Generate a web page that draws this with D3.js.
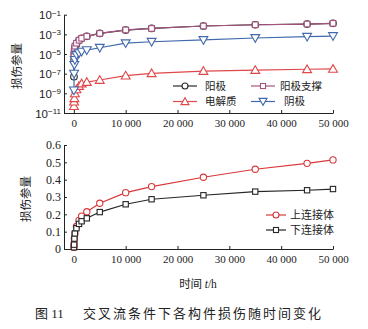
<!DOCTYPE html>
<html><head><meta charset="utf-8">
<script src="https://cdn.jsdelivr.net/npm/d3@7/dist/d3.min.js"></script>
<style>
body{margin:0;background:#fff;}
svg{display:block;font-family:"Liberation Serif","Noto Sans CJK SC",serif;}
</style></head><body>
<script>
// ---- data ----
const timesTop = [20, 50, 100, 200, 500, 1000, 1500, 2500, 5000, 10000, 15000, 25000, 35000, 45000, 50000];
const anodeExp = [-7.3, -5.6, -5.0, -4.5, -4.0, -3.6, -3.4, -3.2, -2.9, -2.56, -2.4, -2.15, -2.02, -1.95, -1.88];
const anodeSupportExp = [-5.0, -4.7, -4.4, -4.2, -3.9, -3.6, -3.4, -3.2, -2.9, -2.55, -2.4, -2.15, -2.02, -1.95, -1.88];
const electrolyteExp = [-10.3, -9.85, -9.5, -9.0, -8.6, -8.25, -8.0, -7.85, -7.64, -7.2, -6.96, -6.73, -6.63, -6.55, -6.52];
const cathodeExp = [-8.7, -7.0, -6.1, -5.6, -5.1, -4.9, -4.75, -4.6, -4.36, -3.9, -3.75, -3.57, -3.37, -3.24, -3.17];
const anode = anodeExp.map(e => Math.pow(10, e));
const anodeSupport = anodeSupportExp.map(e => Math.pow(10, e));
const electrolyte = electrolyteExp.map(e => Math.pow(10, e));
const cathode = cathodeExp.map(e => Math.pow(10, e));

const timesBottom = [20, 50, 100, 200, 500, 1000, 1500, 2500, 5000, 10000, 15000, 25000, 35000, 45000, 50000];
const upperConn = [0.01, 0.03, 0.06, 0.09, 0.13, 0.165, 0.19, 0.215, 0.264, 0.325, 0.36, 0.414, 0.46, 0.494, 0.514];
const lowerConn = [0.01, 0.025, 0.06, 0.09, 0.12, 0.145, 0.16, 0.177, 0.213, 0.258, 0.287, 0.31, 0.331, 0.339, 0.346];

const xTicks = [0, 10000, 20000, 30000, 40000, 50000];
const yTicksTopExp = [-1, -3, -5, -7, -9, -11];
const yTicksBottom = [0, 0.1, 0.2, 0.3, 0.4, 0.5, 0.6];

const topSeries = [
  {name: "阳极", values: anode, color: "#2a2a2a", shape: "circle"},
  {name: "阳极支撑", values: anodeSupport, color: "#a4547f", shape: "square"},
  {name: "电解质", values: electrolyte, color: "#e0474a", shape: "triangle"},
  {name: "阴极", values: cathode, color: "#4169ad", shape: "triangleDown"}
];
const bottomSeries = [
  {name: "上连接体", values: upperConn, color: "#d8383a", shape: "circle"},
  {name: "下连接体", values: lowerConn, color: "#262626", shape: "square"}
];

// ---- drawing ----
const W = 368, H = 329;
const svg = d3.select("body").append("svg").attr("width", W).attr("height", H);

const x = d3.scaleLinear().domain([-1900, 50000]).range([64, 333]);
const yTop = d3.scaleLog().domain([1e-11, 1e-1]).range([113, 14.7]);
const yBot = d3.scaleLinear().domain([0, 0.6]).range([249, 145]);

const fmtX = d => d === 0 ? "0" : d3.format(",")(d).replace(",", " ");

function marker(g, shape, cx, cy, color, s) {
  s = s || 1;
  if (shape === "circle") {
    g.append("circle").attr("cx", cx).attr("cy", cy).attr("r", 3.3 * s)
      .attr("fill", "#fff").attr("stroke", color).attr("stroke-width", 1.1);
  } else if (shape === "square") {
    const a = 5.6 * s;
    g.append("rect").attr("x", cx - a / 2).attr("y", cy - a / 2).attr("width", a).attr("height", a)
      .attr("fill", "#fff").attr("stroke", color).attr("stroke-width", 1.1);
  } else {
    const sym = d3.symbol().type(d3.symbolTriangle).size(34 * s * s);
    g.append("path").attr("d", sym())
      .attr("transform", `translate(${cx},${cy + (shape === "triangle" ? 0.8 : -0.8)}) rotate(${shape === "triangle" ? 0 : 180})`)
      .attr("fill", "#fff").attr("stroke", color).attr("stroke-width", 1.1);
  }
}

function styleAxis(g) {
  g.selectAll("path.domain").attr("stroke", "#222").attr("stroke-width", 1);
  g.selectAll(".tick line").attr("stroke", "#222");
  g.selectAll("text").attr("fill", "#222").attr("font-family", "Liberation Serif, serif").attr("font-size", 11);
}

// ===== Top plot =====
const gTop = svg.append("g");
const xAxTop = gTop.append("g").attr("transform", `translate(0,113)`)
  .call(d3.axisBottom(x).tickValues(xTicks).tickFormat(fmtX).tickSize(-3).tickSizeOuter(0).tickPadding(6));
styleAxis(xAxTop);
const yAxTop = gTop.append("g").attr("transform", `translate(64,0)`)
  .call(d3.axisLeft(yTop).tickValues(yTicksTopExp.map(e => Math.pow(10, e))).tickFormat("").tickSize(-3).tickSizeOuter(0));
styleAxis(yAxTop);
yAxTop.selectAll(".tick").each(function(d, i) {
  const t = d3.select(this).append("text").attr("x", -3).attr("dy", "0.35em")
    .attr("text-anchor", "end").attr("fill", "#222").attr("font-size", 11.5);
  t.append("tspan").text("10");
  t.append("tspan").attr("dy", "-0.45em").attr("font-size", 8).text("\u2212" + (-yTicksTopExp[i]));
});
gTop.append("text").attr("transform", "translate(21,66) rotate(-90)").attr("text-anchor", "middle")
  .attr("font-family", "Noto Sans CJK SC").attr("font-size", 11.5).attr("fill", "#222").text("损伤参量");

topSeries.forEach(s => {
  const pts = timesTop.map((t, i) => [x(t), yTop(s.values[i])]);
  gTop.append("path").attr("d", d3.line()(pts)).attr("fill", "none")
    .attr("stroke", s.color).attr("stroke-width", 1.2);
  const mg = gTop.append("g");
  pts.forEach(p => marker(mg, s.shape, p[0], p[1], s.color));
});

// top legend
const legTop = [
  {s: topSeries[0], lx: 173, ty: 86, tx: 205},
  {s: topSeries[1], lx: 251, ty: 86, tx: 280},
  {s: topSeries[2], lx: 173, ty: 101.5, tx: 205},
  {s: topSeries[3], lx: 251, ty: 101.5, tx: 284}
];
legTop.forEach(l => {
  gTop.append("line").attr("x1", l.lx).attr("x2", l.lx + 24).attr("y1", l.ty).attr("y2", l.ty)
    .attr("stroke", l.s.color).attr("stroke-width", 1.2);
  marker(gTop, l.s.shape, l.lx + 12, l.ty, l.s.color, 0.9);
  gTop.append("text").attr("x", l.tx).attr("y", l.ty).attr("dy", "0.36em")
    .attr("font-family", "Noto Sans CJK SC").attr("font-size", 10.5).attr("fill", "#222").text(l.s.name);
});

// ===== Bottom plot =====
const gBot = svg.append("g");
const xAxBot = gBot.append("g").attr("transform", `translate(0,249)`)
  .call(d3.axisBottom(x).tickValues(xTicks).tickFormat(fmtX).tickSize(-3).tickSizeOuter(0).tickPadding(6));
styleAxis(xAxBot);
const yAxBot = gBot.append("g").attr("transform", `translate(64,0)`)
  .call(d3.axisLeft(yBot).tickValues(yTicksBottom).tickFormat(d => d === 0 ? "0" : d3.format(".1f")(d)).tickSize(-3).tickSizeOuter(0).tickPadding(3));
styleAxis(yAxBot);
yAxBot.selectAll("text").attr("font-size", 12);
gBot.append("text").attr("transform", "translate(30,199) rotate(-90)").attr("text-anchor", "middle")
  .attr("font-family", "Noto Sans CJK SC").attr("font-size", 11.5).attr("fill", "#222").text("损伤参量");

bottomSeries.forEach(s => {
  const pts = timesBottom.map((t, i) => [x(t), yBot(s.values[i])]);
  gBot.append("path").attr("d", d3.line()(pts)).attr("fill", "none")
    .attr("stroke", s.color).attr("stroke-width", 1.2);
  const mg = gBot.append("g");
  pts.forEach(p => marker(mg, s.shape, p[0], p[1], s.color, 0.95));
});

bottomSeries.forEach((s, i) => {
  const ty = 215 + i * 15;
  gBot.append("line").attr("x1", 266).attr("x2", 286).attr("y1", ty).attr("y2", ty)
    .attr("stroke", s.color).attr("stroke-width", 1.2);
  marker(gBot, s.shape, 276, ty, s.color, 0.9);
  gBot.append("text").attr("x", 290).attr("y", ty).attr("dy", "0.36em")
    .attr("font-family", "Noto Sans CJK SC").attr("font-size", 11).attr("fill", "#222").text(s.name);
});

// x label
const xl = svg.append("text").attr("x", 198).attr("y", 288).attr("text-anchor", "middle")
  .attr("font-size", 11.5).attr("fill", "#222");
xl.append("tspan").attr("font-family", "Noto Sans CJK SC").text("时间 ");
xl.append("tspan").attr("font-style", "italic").text("t");
xl.append("tspan").text("/h");

// caption
const cap = svg.append("text").attr("x", 35).attr("y", 318).attr("fill", "#222");
cap.append("tspan").attr("font-family", "Noto Sans CJK SC").attr("font-size", 13).text("图");
cap.append("tspan").attr("font-size", 13).text(" 11");
cap.append("tspan").attr("x", 83).attr("font-family", "Noto Sans CJK SC").attr("font-size", 13)
  .attr("letter-spacing", 2).text("交叉流条件下各构件损伤随时间变化");
</script>
</body></html>
